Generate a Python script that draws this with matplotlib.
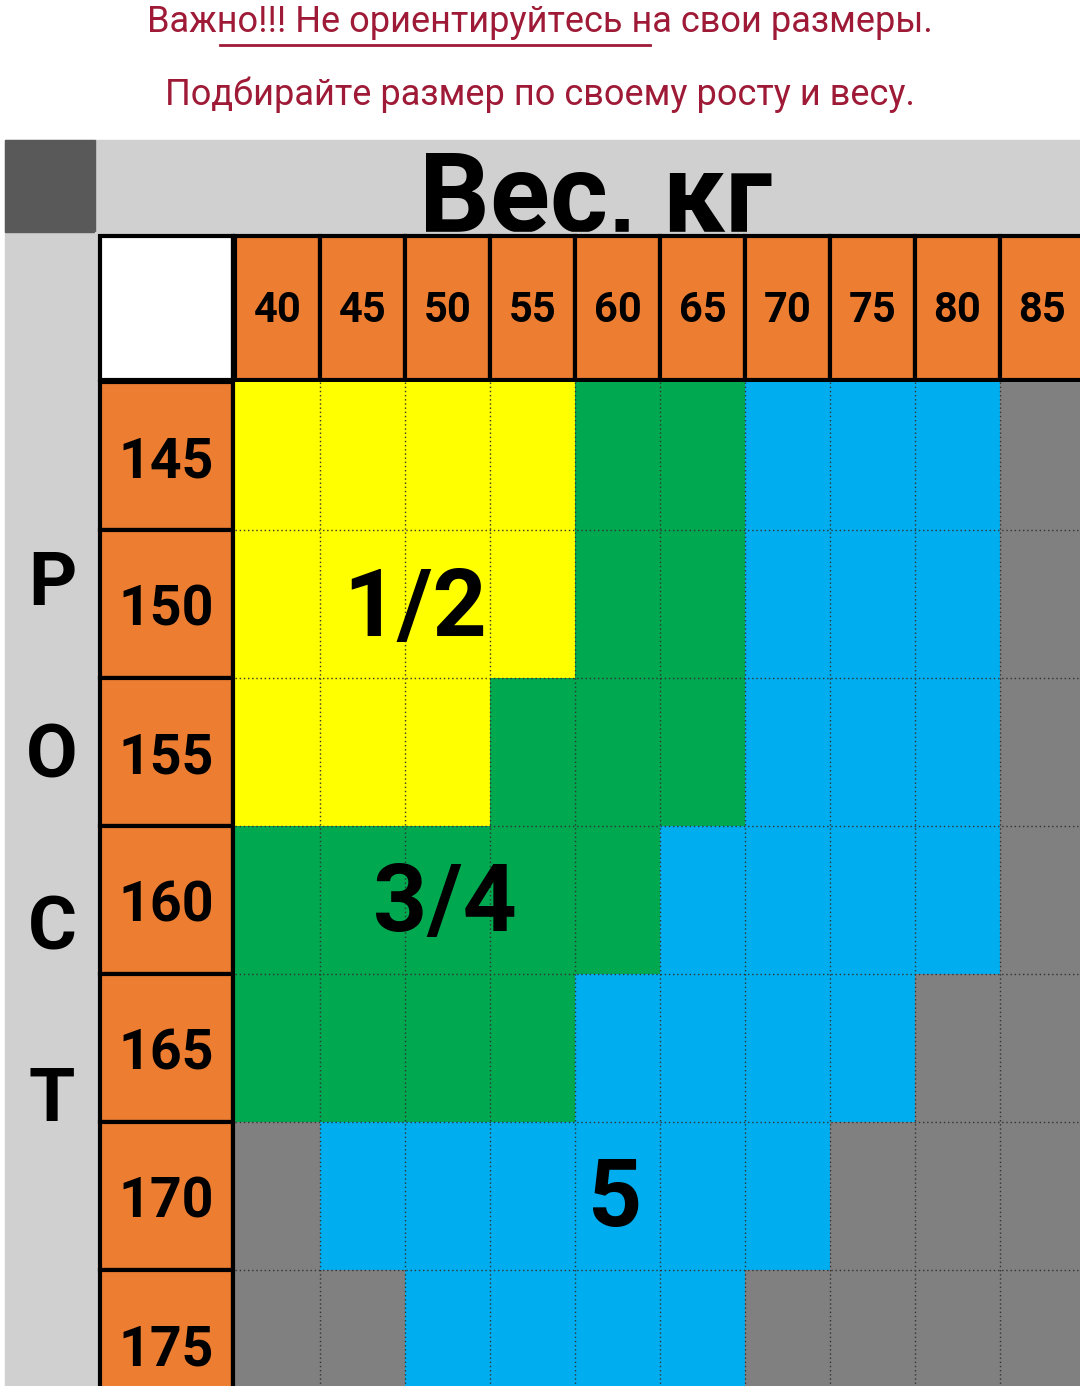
import numpy as np
import matplotlib
matplotlib.use('Agg')
import matplotlib.pyplot as plt
from matplotlib.colors import ListedColormap
from matplotlib.patches import Rectangle

plt.rcParams['font.family'] = ['Roboto', 'DejaVu Sans']

# Data
weights = [40, 45, 50, 55, 60, 65, 70, 75, 80, 85]
heights = [145, 150, 155, 160, 165, 170, 175]
# 0 = yellow (1/2), 1 = green (3/4), 2 = blue (5), 3 = gray (none)
size_codes = [
    [0, 0, 0, 0, 1, 1, 2, 2, 2, 3],
    [0, 0, 0, 0, 1, 1, 2, 2, 2, 3],
    [0, 0, 0, 1, 1, 1, 2, 2, 2, 3],
    [1, 1, 1, 1, 1, 2, 2, 2, 2, 3],
    [1, 1, 1, 1, 2, 2, 2, 2, 3, 3],
    [3, 2, 2, 2, 2, 2, 2, 3, 3, 3],
    [3, 3, 2, 2, 2, 2, 3, 3, 3, 3],
]
size_labels = ['1/2', '3/4', '5']
size_label_pos = [(415, 610), (445, 905), (615, 1200)]

YELLOW, GREEN, BLUE, GRAY = '#ffff00', '#00a84f', '#00aeef', '#808080'
ORANGE = '#ed7d31'
RED = '#9e1a36'

W, H = 1080, 1386
fig = plt.figure(figsize=(W / 100, H / 100), dpi=100)
ax = fig.add_axes([0, 0, 1, 1])
ax.set_xlim(0, W)
ax.set_ylim(H, 0)
ax.axis('off')

# Title lines
ax.text(540, 22, 'Важно!!! Не ориентируйтесь на свои размеры.', ha='center', va='center',
        fontsize=26, color=RED)
ax.plot([220, 650], [45, 45], color=RED, lw=2)
ax.text(540, 95, 'Подбирайте размер по своему росту и весу.', ha='center', va='center',
        fontsize=26, color=RED)

# Frame
ax.add_patch(Rectangle((5, 140), W - 5, H - 140, color='#d0d0d0', zorder=0))
ax.add_patch(Rectangle((5, 140), 90, 92, color='#595959', zorder=1))
ax.text(595, 232, 'Вес, кг', ha='center', va='baseline', fontsize=80,
        fontweight='bold', color='black', zorder=1, clip_on=True)
ax.add_patch(Rectangle((95, 232), W - 95, 10, color='#d0d0d0', zorder=1.5))
for i, ch in enumerate(['Р', 'О', 'С', 'Т']):
    ax.text(52, 585 + i * 172, ch, ha='center', va='center', fontsize=54,
            fontweight='bold', color='black')

x0, cw = 235, 85
y0, rh = 382, 148
x_edges = x0 + cw * np.arange(len(weights) + 1)
y_edges = y0 + rh * np.arange(len(heights) + 1)

# White corner and headers
ax.add_patch(Rectangle((100, 236), 133, 144, facecolor='white', edgecolor='black', lw=3, zorder=2))
for j, w in enumerate(weights):
    ax.add_patch(Rectangle((x_edges[j], 236), cw, 144, facecolor=ORANGE,
                           edgecolor='black', lw=3, zorder=2))
    ax.text(x_edges[j] + cw / 2, 310, str(w), ha='center', va='center',
            fontsize=30, fontweight='bold', color='black', zorder=3)
for i, h in enumerate(heights):
    ax.add_patch(Rectangle((100, y_edges[i]), 133, rh, facecolor=ORANGE,
                           edgecolor='black', lw=3, zorder=2))
    ax.text(166, y_edges[i] + 80, str(h), ha='center', va='center',
            fontsize=40, fontweight='bold', color='black', zorder=3)

cmap = ListedColormap([YELLOW, GREEN, BLUE, GRAY])
ax.pcolormesh(x_edges, y_edges, np.array(size_codes), cmap=cmap, vmin=-0.5, vmax=3.5, zorder=2)
for xe in x_edges[1:-1]:
    ax.plot([xe, xe], [y_edges[0], H], color='#333333', lw=1, ls=(0, (1, 2)), zorder=3)
for ye in y_edges[1:-1]:
    ax.plot([x_edges[0], W], [ye, ye], color='#333333', lw=1, ls=(0, (1, 2)), zorder=3)
ax.plot([233, 233], [236, H], color='black', lw=3, zorder=4)

for lab, (lx, ly) in zip(size_labels, size_label_pos):
    ax.text(lx, ly, lab, ha='center', va='center', fontsize=68,
            fontweight='bold', color='black', zorder=5)

fig.savefig('out.png', dpi=100)
